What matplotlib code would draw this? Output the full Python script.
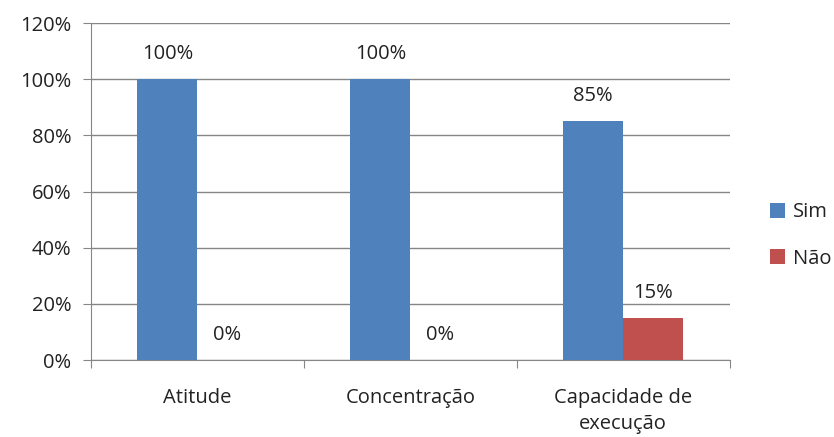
import numpy as np
import matplotlib.pyplot as plt
from matplotlib.ticker import PercentFormatter

categorias = ['Atitude', 'Concentração', 'Capacidade de\nexecução']
sim = [100, 100, 85]
nao = [0, 0, 15]

plt.rcParams['font.family'] = ['Open Sans', 'DejaVu Sans']
fs = 14.5

fig = plt.figure(figsize=(8.34, 4.37), dpi=100)
ax = fig.add_axes([0.109, 0.176, 0.766, 0.771])

x = np.arange(len(categorias))
w = 0.282
b1 = ax.bar(x - w / 2, sim, w, color='#4F81BD', label='Sim', zorder=3)
b2 = ax.bar(x + w / 2, nao, w, color='#C0504D', label='Não', zorder=3)

for barras, vals in ((b1, sim), (b2, nao)):
    for r, v in zip(barras, vals):
        ax.annotate(f'{v}%', (r.get_x() + r.get_width() / 2, r.get_height()),
                    xytext=(0, 11), textcoords='offset points',
                    ha='center', va='bottom', fontsize=fs, color='#222222')

ax.set_xlim(-0.5, 2.5)
ax.set_ylim(0, 120)
ax.set_yticks(np.arange(0, 121, 20))
ax.yaxis.set_major_formatter(PercentFormatter(decimals=0))
ax.set_xticks([-0.5, 0.5, 1.5, 2.5], minor=False)
ax.set_xticklabels([])
ax.set_xticks(x, minor=True)
ax.set_xticklabels(categorias, minor=True, linespacing=1.4)
ax.tick_params(axis='x', which='minor', length=0, pad=20, labelsize=fs,
               labelcolor='#222222')
ax.tick_params(axis='x', which='major', length=6, color='#868686')
ax.tick_params(axis='y', length=6, color='#868686', labelsize=fs, pad=8,
               labelcolor='#222222')
ax.grid(axis='y', color='#868686', linewidth=1, zorder=0)

for s in ['top', 'right']:
    ax.spines[s].set_visible(False)
ax.spines['left'].set_color('#868686')
ax.spines['bottom'].set_color('#868686')

ax.legend(loc='center left', bbox_to_anchor=(1.035, 0.37), frameon=False,
          fontsize=fs, handlelength=0.75, handleheight=0.75, labelspacing=1.3,
          handletextpad=0.4, labelcolor='#222222')

fig.savefig('out.png', dpi=100)
